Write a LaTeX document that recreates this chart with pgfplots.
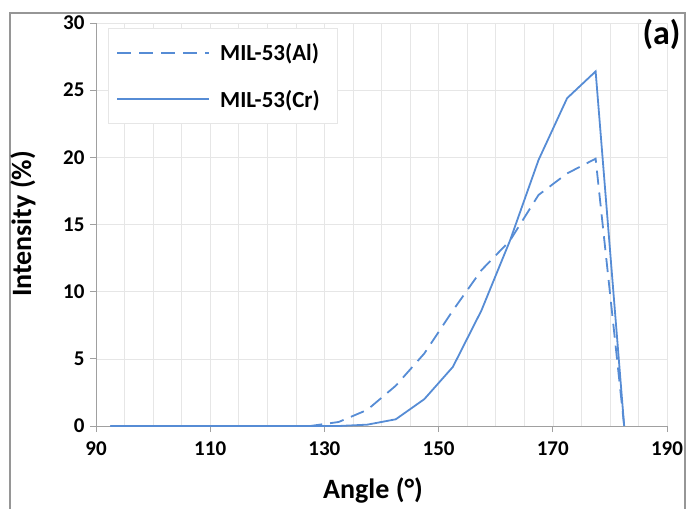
\documentclass[border=0pt]{standalone}
\usepackage{pgfplots}
\pgfplotsset{compat=1.18}
\usepackage{fontspec}
\setmainfont{Carlito}
\definecolor{lineblue}{RGB}{86,140,213}
\definecolor{gridgray}{RGB}{230,230,230}
\definecolor{axgray}{RGB}{160,160,160}
\definecolor{framegray}{RGB}{150,150,150}
\begin{document}
\begin{tikzpicture}[x=1pt,y=1pt]
\useasboundingbox (0,0) rectangle (686,-509);
\draw[framegray, line width=1.2pt] (10,-13) rectangle (685,-530);
\begin{axis}[
  at={(96pt,-426pt)}, anchor=south west,
  scale only axis, width=571pt, height=403pt,
  xmin=90, xmax=190, ymin=0, ymax=30,
  xtick={90,110,...,190}, ytick={0,5,...,30},
  minor x tick num=3,
  grid=both,
  major grid style={gridgray, line width=0.6pt},
  minor grid style={gridgray, line width=0.6pt},
  axis x line*=bottom, axis y line*=left,
  axis line style={axgray, line width=0.8pt},
  every outer x axis line/.append style={-},
  every outer y axis line/.append style={-},
  tick align=outside,
  major tick length=6pt, minor tick length=0pt,
  tick style={axgray, line width=0.8pt},
  xticklabel style={font=\fontsize{21}{24}\selectfont\bfseries, yshift=-6pt},
  yticklabel style={font=\fontsize{21}{24}\selectfont\bfseries, xshift=-2pt},
  /pgf/number format/assume math mode=true,
  legend cell align=left,
  legend style={at={(12/571, 1-5/403)}, anchor=north west,
    draw=gridgray, line width=0.8pt,
    font=\fontsize{23}{27}\selectfont\bfseries,
    inner xsep=8pt, inner ysep=13pt, row sep=24pt,
    nodes={inner xsep=10pt}},
  legend image code/.code={\draw[#1] (0pt,0pt) -- (92pt,0pt);},
]
\addplot[lineblue, line width=1.8pt, dash pattern=on 14pt off 8pt] coordinates {
(92.5,0) (97.5,0) (102.5,0) (107.5,0) (112.5,0) (117.5,0) (122.5,0) (127.5,0)
(132.5,0.3) (137.5,1.2) (142.5,3.0) (147.5,5.4) (152.5,8.6) (157.5,11.6)
(162.5,13.8) (167.5,17.2) (172.5,18.8) (177.5,19.9) (182.5,0)};
\addlegendentry{MIL-53(Al)}
\addplot[lineblue, line width=1.8pt] coordinates {
(92.5,0) (97.5,0) (102.5,0) (107.5,0) (112.5,0) (117.5,0) (122.5,0) (127.5,0)
(132.5,0) (137.5,0.1) (142.5,0.5) (147.5,2.0) (152.5,4.4) (157.5,8.6)
(162.5,13.8) (167.5,19.8) (172.5,24.4) (177.5,26.4) (182.5,0)};
\addlegendentry{MIL-53(Cr)}
\end{axis}
\node[font=\fontsize{28}{32}\selectfont\bfseries] at (373,-490) {Angle (°)};
\node[font=\fontsize{28}{32}\selectfont\bfseries, rotate=90] at (23,-224) {Intensity (\%)};
\node[font=\fontsize{34}{38}\selectfont\bfseries, anchor=north east] at (684,-16) {(a)};
\end{tikzpicture}
\end{document}
